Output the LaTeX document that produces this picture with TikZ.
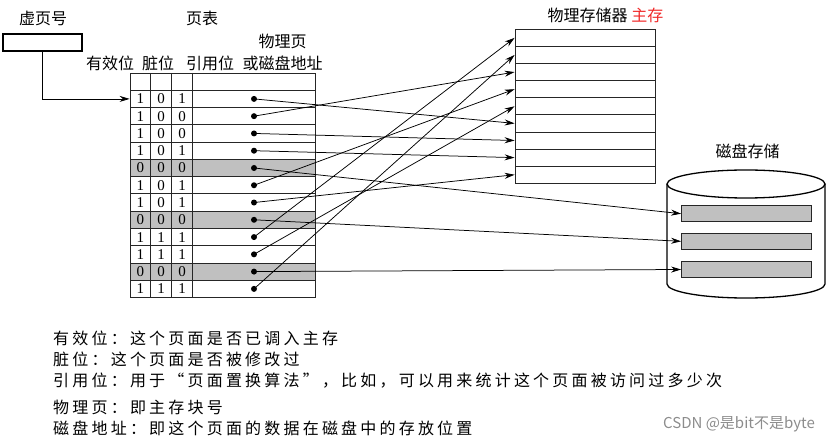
\documentclass[tikz,border=0pt]{standalone}
\usepackage{fontspec}
\setmainfont{Liberation Serif}
\newfontfamily\cjk{Noto Sans CJK SC}
\newfontfamily\cjkw[LetterSpace=20]{Noto Sans CJK SC}
\usetikzlibrary{arrows.meta}
\definecolor{cellgray}{RGB}{192,192,192}
\definecolor{hotred}{RGB}{240,40,40}
\begin{document}
\begin{tikzpicture}[x=1pt,y=-1pt,
  lbl/.style={font=\cjk\fontsize{16}{18}\selectfont, inner sep=0pt},
  note/.style={font=\cjkw\fontsize{16}{18}\selectfont, anchor=west, inner sep=0pt},
  rowbox/.style={draw=black!85, line width=0.8pt, minimum width=185pt, minimum height=17.27pt, inner sep=0pt},
  memrow/.style={draw=black!85, line width=0.8pt, minimum width=140pt, minimum height=17.11pt, inner sep=0pt},
  slot/.style={draw=black!85, fill=cellgray, line width=1.2pt, minimum width=130pt, minimum height=16pt, inner sep=0pt},
  bit/.style={font=\fontsize{15}{15}\selectfont, inner sep=0pt},
  dot/.style={circle, fill=black, inner sep=0pt, minimum size=6pt},
  arr/.style={-{Stealth[length=10pt,width=6pt]}, line width=0.75pt},
  gridline/.style={draw=black!85, line width=0.8pt},
]
\useasboundingbox (0,0) rectangle (829,443);

% page table
\node[rowbox] (r0) at (222.5,81.6) {};
\foreach \i/\a/\b/\c/\f in {1/1/0/1/white, 2/1/0/0/white, 3/1/0/0/white, 4/1/0/1/white,
  5/0/0/0/cellgray, 6/1/0/1/white, 7/1/0/1/white, 8/0/0/0/cellgray, 9/1/1/1/white,
  10/1/1/1/white, 11/0/0/0/cellgray, 12/1/1/1/white} {
  \pgfmathsetmacro\yy{73+17.27*(\i+0.5)}
  \node[rowbox, fill=\f] (r\i) at (222.5,\yy) {};
  \node[bit] (ba\i) at (140.3,\yy) {\a};
  \node[bit] (bb\i) at (161.2,\yy) {\b};
  \node[bit] (bc\i) at (182,\yy) {\c};
  \node[dot] (d\i) at (254,\yy) {};
}
\foreach \x in {150.7,171.7,192.3} \draw[gridline] (\x,73) -- (\x,297.5);

% physical memory
\foreach \j in {1,...,9} \node[memrow] (m\j) at (585,{29.3+17.11*(\j-0.5)}) {};

% disk
\draw[line width=1.3pt] (667,184) -- (667,284) arc[start angle=180,end angle=0,x radius=79,y radius=14] -- (825,184);
\draw[line width=1.3pt] (746,184) ellipse[x radius=79, y radius=14];
\node[slot] (s1) at (746.7,213.7) {};
\node[slot] (s2) at (746.7,241.3) {};
\node[slot] (s3) at (746.7,269.5) {};

% virtual page number box
\node[draw, line width=1.8pt, minimum width=79pt, minimum height=17pt, inner sep=0pt] (vp) at (42.5,42.5) {};
\draw[arr] (vp.south) |- (r1.west);

% mapping arrows
\foreach \s/\t in {1/m6,2/m3,3/m7,4/m8,6/m4,7/m9,9/m1,10/m5,12/m2}
  \draw[arr] (d\s.center) -- (\t.west);
\draw[arr] (d5.center) -- (s1.west);
\draw[arr] (d8.center) -- (s2.west);
\draw[arr] (d11.center) -- (s3.west);

% labels
\node[lbl] (t1) at (43,18) {虚页号};
\node[lbl] (t2) at (202,18) {页表};
\node[lbl] (t3) at (282.5,41.7) {物理页};
\node[lbl] (h1) at (110,63) {有效位};
\node[lbl] (h2) at (158,63) {脏位};
\node[lbl] (h3) at (210,63) {引用位};
\node[lbl] (h4) at (282.5,63) {或磁盘地址};
\node[lbl] (t4) at (605.5,15) {物理存储器 \textcolor{hotred}{主存}};
\node[lbl] (t5) at (747.5,151.7) {磁盘存储};

% notes
\node[note] (n1) at (53,338) {有效位：这个页面是否已调入主存};
\node[note] (n2) at (53,359) {脏位：这个页面是否被修改过};
\node[note] (n3) at (53,381) {引用位：用于“页面置换算法”，比如，可以用来统计这个页面被访问过多少次};
\node[note] (n4) at (53,407) {物理页：即主存块号};
\node[note] (n5) at (53,428) {磁盘地址：即这个页面的数据在磁盘中的存放位置};

\node[font=\cjk\fontsize{15}{15}\selectfont, text=black!45, anchor=east, inner sep=0pt] (wm) at (815,424) {CSDN @是bit不是byte};
\end{tikzpicture}
\end{document}
